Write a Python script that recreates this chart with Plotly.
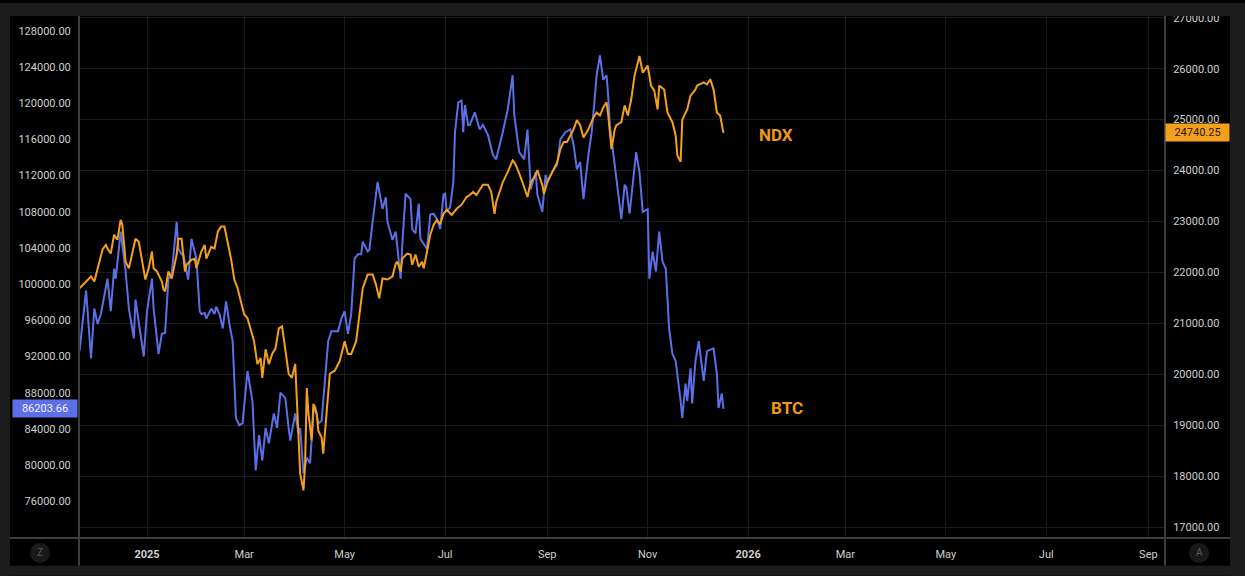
import pandas as pd
import plotly.graph_objects as go

# ---------------- data ----------------
BASE = pd.Timestamp("2025-01-01")

btc_day = [-41, -37, -34, -32, -30, -28, -24, -22, -20, -19, -16, -15, -13, -11, -8, -7, -5, -2, 0,
           3, 4, 7, 9, 11, 13, 15, 18, 19, 21, 22, 25, 27, 30, 32, 33, 35, 36, 39, 41, 42, 44, 46, 48,
           50, 52, 54, 56, 58, 60, 61, 64, 66, 68, 70, 72, 74, 77, 79, 81, 84, 86, 87, 90, 92, 93, 95,
           97, 99, 101, 102, 104, 106, 108, 110, 112, 114, 116, 118, 120, 122, 124, 126, 128, 130, 131,
           134, 135, 137, 140, 143, 145, 146, 149, 151, 152, 154, 155, 157, 160, 161, 163, 165, 166,
           168, 170, 172, 174, 176, 178, 180, 181, 182, 184, 186, 187, 189, 191, 192, 193, 195, 196,
           199, 202, 204, 207, 210, 212, 216, 219, 222, 223, 226, 229, 231, 233, 236, 237, 240, 242,
           243, 246, 249, 251, 254, 257, 259, 261, 263, 265, 268, 270, 272, 273, 275, 277, 279, 280,
           281, 283, 285, 288, 290, 291, 293, 295, 297, 299, 301, 304, 305, 307, 309, 311, 313, 315,
           317, 319, 321, 324, 325, 327, 328, 330, 331, 333, 335, 338, 340, 344, 346, 347, 349, 350]
btc_close = [92600, 99300, 91800, 97300, 95600, 96700, 100600, 97000, 101700, 100600, 105800, 104400,
             101400, 97300, 94000, 98300, 95900, 92000, 97000, 100600, 97300, 92300, 94500, 94600,
             100600, 101100, 106900, 103900, 103300, 103300, 100500, 105000, 102800, 97000, 96700,
             96800, 96200, 97300, 96700, 97500, 96700, 95100, 98100, 95600, 93700, 85200, 84400,
             84600, 88500, 90400, 87100, 79400, 83300, 80500, 84100, 82400, 85700, 84100, 88000,
             87400, 84100, 82700, 85700, 83500, 84100, 79100, 80800, 80200, 85700, 86600, 84600,
             84900, 89300, 93700, 94800, 94800, 94800, 96200, 97000, 94500, 96700, 102800, 103300,
             103300, 104700, 103600, 103800, 106900, 111300, 108300, 109600, 106900, 104900, 105800,
             103900, 100600, 104400, 110000, 109400, 106100, 105600, 108900, 105000, 104400, 103900,
             107700, 107800, 107200, 106100, 109900, 110000, 108000, 108500, 111300, 116800, 120100,
             120300, 116800, 119800, 117600, 117600, 119000, 117100, 117600, 116500, 114300, 113800,
             116800, 119300, 123100, 118700, 114600, 113800, 117100, 110500, 112400, 109900, 108000,
             112100, 111300, 112400, 113200, 116000, 116800, 117100, 115400, 112700, 113500, 109400,
             114300, 116800, 120900, 123100, 125300, 122600, 123100, 120900, 117600, 114600, 112100,
             107200, 111000, 110700, 107800, 111000, 114600, 112400, 108000, 108300, 100600, 103600,
             101400, 105800, 102500, 101700, 95100, 92300, 91500, 87100, 85200, 89000, 87100, 90700,
             86800, 91500, 93700, 89300, 92600, 92900, 90100, 86300, 87900, 86203.66]

ndx_day = [-41, -37, -34, -32, -30, -27, -25, -24, -22, -20, -18, -16, -15, -13, -11, -9, -7, -5, -3,
           -1, 1, 3, 4, 6, 9, 10, 11, 13, 15, 18, 19, 21, 23, 24, 27, 29, 30, 33, 35, 36, 39, 41, 43,
           45, 47, 49, 51, 53, 55, 57, 59, 61, 63, 65, 67, 69, 70, 72, 74, 76, 78, 80, 82, 84, 86, 88,
           90, 91, 93, 95, 96, 97, 98, 100, 101, 103, 104, 106, 107, 109, 111, 114, 117, 120, 122, 124,
           127, 129, 131, 134, 137, 139, 141, 143, 146, 149, 151, 152, 154, 155, 158, 160, 161, 163,
           165, 167, 168, 170, 172, 174, 176, 178, 180, 182, 185, 188, 191, 194, 196, 198, 200, 204,
           207, 209, 211, 212, 216, 219, 222, 223, 225, 228, 230, 231, 233, 236, 237, 240, 241, 243,
           246, 249, 251, 253, 255, 257, 259, 261, 263, 265, 268, 271, 273, 275, 277, 279, 280, 282,
           284, 285, 288, 290, 292, 294, 296, 299, 301, 304, 306, 308, 310, 311, 314, 316, 319, 321,
           322, 324, 325, 328, 330, 333, 334, 338, 340, 342, 344, 346, 348, 350]
ndx_close = [21690, 21820, 21920, 21820, 22080, 22450, 22540, 22470, 22370, 22740, 22640, 23030, 22940,
             22210, 22080, 22350, 22660, 22600, 22210, 21860, 22080, 22410, 22080, 22020, 21820, 21670,
             21630, 22020, 21880, 22350, 22660, 22660, 22020, 22150, 22250, 22270, 22080, 22410, 22540,
             22270, 22500, 22470, 22800, 22900, 22900, 22600, 22270, 21860, 21690, 21430, 21180, 21100,
             20850, 20650, 20200, 20320, 19930, 20490, 20200, 20400, 20510, 20900, 20940, 20510, 20010,
             19930, 20200, 19480, 18050, 17720, 18250, 19730, 19230, 18700, 19420, 19230, 18890, 18760,
             18440, 19230, 20010, 20070, 20260, 20650, 20400, 20400, 20650, 21180, 21690, 21960, 21960,
             21760, 21490, 21880, 21860, 21920, 22170, 22210, 22020, 22270, 22370, 22350, 22150, 22350,
             22110, 22210, 22080, 22410, 22740, 22930, 23030, 22950, 23150, 23230, 23130, 23250, 23330,
             23480, 23520, 23580, 23520, 23720, 23720, 23580, 23150, 23380, 23770, 23970, 24200, 24160,
             24030, 23770, 23580, 23480, 23770, 23910, 24010, 23720, 23540, 23770, 23970, 24160, 24420,
             24560, 24560, 24690, 24810, 24990, 24890, 24650, 24810, 25040, 25140, 25080, 25240, 25340,
             25100, 24420, 24810, 24890, 24950, 25280, 25080, 25400, 25860, 26250, 25920, 26060, 25670,
             25570, 25200, 25670, 25590, 25140, 24950, 24690, 24300, 24170, 25000, 25200, 25470, 25590,
             25670, 25730, 25690, 25790, 25590, 25140, 25080, 24740.25]

btc_ticks = list(range(76000, 128001, 4000))
ndx_ticks = list(range(17000, 27001, 1000))
x_tick_dates = ["2025-01-01", "2025-03-01", "2025-05-01", "2025-07-01", "2025-09-01", "2025-11-01",
                "2026-01-01", "2026-03-01", "2026-05-01", "2026-07-01", "2026-09-01"]
x_tick_text = ["<b>2025</b>", "Mar", "May", "Jul", "Sep", "Nov",
               "<b>2026</b>", "Mar", "May", "Jul", "Sep"]

# ---------------- styling ----------------
W, H = 1245, 576
ML, MR, MT, MB = 79, 80, 13, 38
PW, PH = W - ML - MR, H - MT - MB


def px(x):
    return (x - ML) / PW


def py(y):
    return (H - MB - y) / PH


BTC_COLOR = "#5c6fe6"
NDX_COLOR = "#f5a01c"
OUTER = "#1c1c1c"
AXIS = "#3e3e3e"
GRID = "#1a1a1a"
TXT = "#cfcfcf"
FONT = "Roboto"

btc_x = [BASE + pd.Timedelta(days=d) for d in btc_day]
ndx_x = [BASE + pd.Timedelta(days=d) for d in ndx_day]

fig = go.Figure()
fig.add_trace(go.Scatter(x=btc_x, y=btc_close, mode="lines", name="BTC",
                         line=dict(color=BTC_COLOR, width=2), yaxis="y"))
fig.add_trace(go.Scatter(x=ndx_x, y=ndx_close, mode="lines", name="NDX",
                         line=dict(color=NDX_COLOR, width=2), yaxis="y2"))

shapes = []
# axis frame lines
shapes.append(dict(type="line", xref="paper", yref="paper", x0=px(10), x1=px(1230), y0=py(538), y1=py(538),
                   line=dict(color=AXIS, width=2), layer="above"))
# clip strip under the right price scale
shapes.append(dict(type="rect", xref="paper", yref="paper", x0=px(1166), x1=px(1232), y0=py(539.5), y1=py(566),
                   fillcolor="#000000", line=dict(width=0), layer="above"))
for xv in (79, 1165):
    shapes.append(dict(type="line", xref="paper", yref="paper", x0=px(xv), x1=px(xv), y0=py(13), y1=py(566),
                       line=dict(color=AXIS, width=2), layer="above"))
# corner buttons
for cx in (40, 1199):
    shapes.append(dict(type="circle", xref="paper", yref="paper", x0=px(cx - 10), x1=px(cx + 10),
                       y0=py(563), y1=py(543), fillcolor="#191919", line=dict(width=0), layer="above"))
# outer frame
frame = [(0, 1245, 0, 13), (0, 1245, 566, 576), (0, 10, 0, 576), (1230, 1245, 0, 576)]
for x0, x1, y0, y1 in frame:
    shapes.append(dict(type="rect", xref="paper", yref="paper", x0=px(x0), x1=px(x1), y0=py(y1), y1=py(y0),
                       fillcolor=OUTER, line=dict(width=0), layer="above"))

annotations = [
    dict(xref="paper", yref="y", x=px(78), y=btc_close[-1], xanchor="right", yanchor="middle",
         text=f"{btc_close[-1]:.2f}", showarrow=False, bgcolor=BTC_COLOR, borderpad=2, width=60,
         font=dict(family=FONT, size=11, color="#eef0ff")),
    dict(xref="paper", yref="y2", x=px(1165), y=ndx_close[-1], xanchor="left", yanchor="middle",
         text=f"{ndx_close[-1]:.2f}", showarrow=False, bgcolor=NDX_COLOR, borderpad=2, width=59,
         font=dict(family=FONT, size=11, color="#1a1a1a")),
    dict(xref="paper", yref="paper", x=px(776), y=py(133), xanchor="center", yanchor="middle",
         text="<b>NDX</b>", showarrow=False, font=dict(family=FONT, size=17, color="#ee9a16")),
    dict(xref="paper", yref="paper", x=px(787), y=py(407), xanchor="center", yanchor="middle",
         text="<b>BTC</b>", showarrow=False, font=dict(family=FONT, size=17, color="#ee9a16")),
    dict(xref="paper", yref="paper", x=px(40), y=py(553), xanchor="center", yanchor="middle",
         text="Z", showarrow=False, font=dict(family=FONT, size=10, color="#5a5a5a")),
    dict(xref="paper", yref="paper", x=px(1199), y=py(553), xanchor="center", yanchor="middle",
         text="A", showarrow=False, font=dict(family=FONT, size=10, color="#5a5a5a")),
]

fig.update_layout(
    width=W, height=H,
    margin=dict(l=ML, r=MR, t=MT, b=MB, pad=0),
    paper_bgcolor="#000000", plot_bgcolor="#000000",
    showlegend=False,
    font=dict(family=FONT, size=11, color=TXT),
    xaxis=dict(type="date", range=["2024-11-20 16:48", "2026-09-11 02:24"],
               tickvals=x_tick_dates, ticktext=x_tick_text,
               showgrid=True, gridcolor=GRID, gridwidth=1, zeroline=False, showline=False,
               ticks="outside", ticklen=6, tickcolor="rgba(0,0,0,0)",
               tickfont=dict(family=FONT, size=11, color=TXT)),
    yaxis=dict(range=[71932, 129649], tickvals=btc_ticks, tickformat=".2f", side="left",
               showgrid=False, zeroline=False, showline=False,
               ticks="outside", ticklen=5, tickcolor="rgba(0,0,0,0)",
               tickfont=dict(family=FONT, size=11, color=TXT)),
    yaxis2=dict(range=[16785, 27035], tickvals=ndx_ticks, tickformat=".2f", side="right",
                overlaying="y", showgrid=True, gridcolor=GRID, gridwidth=1, zeroline=False, showline=False,
                ticks="outside", ticklen=5, tickcolor="rgba(0,0,0,0)",
                tickfont=dict(family=FONT, size=11, color=TXT)),
    shapes=shapes,
    annotations=annotations,
)

fig.write_html("out.html", config={"displayModeBar": False},
               post_script="document.body.style.margin='0';document.body.style.overflow='hidden';")
